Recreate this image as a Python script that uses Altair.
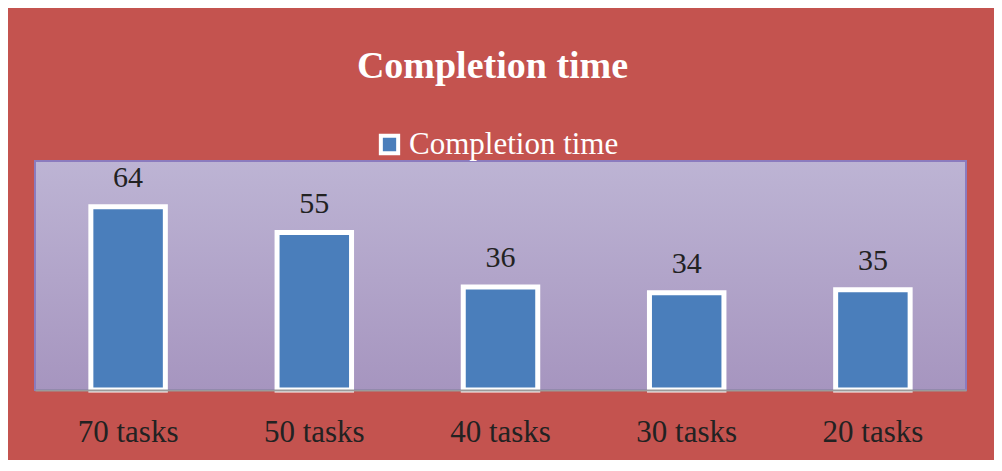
import altair as alt
import pandas as pd

categories = ["70 tasks", "50 tasks", "40 tasks", "30 tasks", "20 tasks"]
values = [64, 55, 36, 34, 35]
series_name = "Completion time"
chart_title = "Completion time"

df = pd.DataFrame({"task": categories, "time": values, "series": [series_name] * len(categories)})

serif = "Liberation Serif"
bg = "#C4534F"
bar_color = "#4A7EBB"

x_enc = alt.X(
    "task:N",
    sort=categories,
    title=None,
    scale=alt.Scale(paddingInner=0.6, paddingOuter=0.3),
    axis=alt.Axis(
        labelFont=serif, labelFontSize=31, labelColor="#222222", labelAngle=0,
        ticks=False, tickSize=0, labelPadding=51, labelBaseline="alphabetic",
        domainColor="#9a9a9a", domainWidth=2, grid=False, zindex=1,
    ),
)
y_enc = alt.Y("time:Q", scale=alt.Scale(domain=[0, 80]), axis=None)

gradient = alt.LinearGradient(
    gradient="linear",
    stops=[alt.GradientStop(color="#BDB4D4", offset=0), alt.GradientStop(color="#A695BF", offset=1)],
    x1=0, x2=0, y1=0, y2=1,
)

panel = alt.Chart(pd.DataFrame({"panel": [0]})).mark_rect(fill=gradient, stroke="#8B7BBE", strokeWidth=2).encode(
    x=alt.value(0), x2=alt.value("width"), y=alt.value(0), y2=alt.value("height")
)

base = alt.Chart(df)

bars = base.mark_bar(stroke="white", strokeWidth=5).encode(
    x=x_enc,
    y=y_enc,
    color=alt.Color(
        "series:N",
        scale=alt.Scale(range=[bar_color]),
        legend=alt.Legend(
            title=None, orient="none", legendX=339, legendY=-32,
            symbolType="square", symbolSize=300, symbolStrokeColor="white",
            symbolStrokeWidth=4, symbolOpacity=1,
            labelFont=serif, labelFontSize=31, labelColor="white", labelOffset=4,
            labelLimit=500,
        ),
    ),
)

labels = base.mark_text(font=serif, fontSize=30, color="#222222", baseline="alphabetic", dy=-20).encode(
    x=x_enc, y=y_enc, text="time:Q"
)

chart = alt.layer(panel, bars, labels).properties(
    width=931,
    height=229,
    title=alt.Title(chart_title, font=serif, fontSize=38, fontWeight="bold", color="white",
                    anchor="middle", offset=43, dx=-8),
    padding={"left": 27, "top": 153, "right": 28, "bottom": 70},
    autosize=alt.AutoSizeParams(type="none"),
    background=bg,
).configure_view(
    stroke=None,
)

chart.save("out.html", embed_options={"renderer": "svg", "actions": False})
